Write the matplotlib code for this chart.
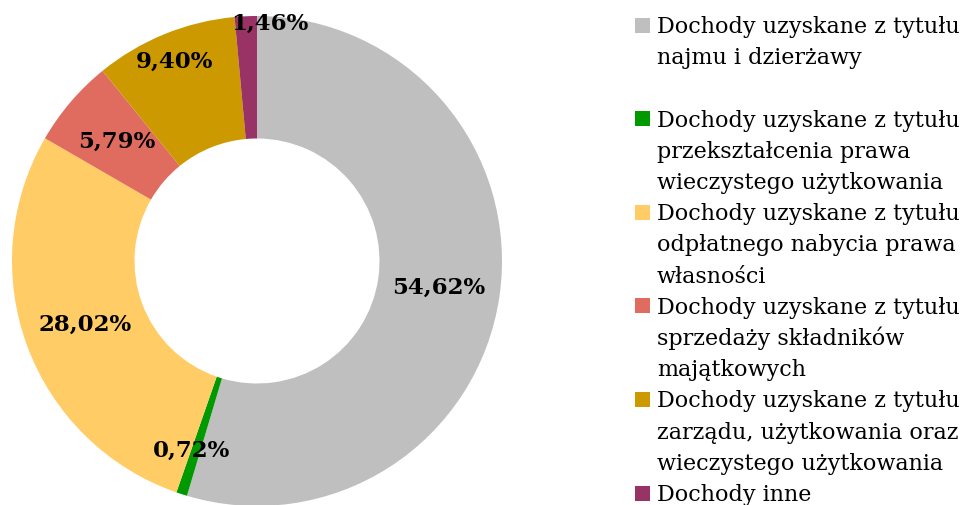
import numpy as np
from matplotlib import pyplot as plt
from matplotlib.patches import Rectangle

W, H = 964, 505

shares = [54.62, 0.72, 28.02, 5.79, 9.40, 1.46]
pct_labels = ['54,62%', '0,72%', '28,02%', '5,79%', '9,40%', '1,46%']
legend_labels = [
    ['Dochody uzyskane z tytułu', 'najmu i dzierżawy'],
    ['Dochody uzyskane z tytułu', 'przekształcenia prawa', 'wieczystego użytkowania'],
    ['Dochody uzyskane z tytułu', 'odpłatnego nabycia prawa', 'własności'],
    ['Dochody uzyskane z tytułu', 'sprzedaży składników', 'majątkowych'],
    ['Dochody uzyskane z tytułu', 'zarządu, użytkowania oraz', 'wieczystego użytkowania'],
    ['Dochody inne'],
]
colors = ['#BFBFBF', '#009900', '#FFCC66', '#E06C5F', '#CC9900', '#993366']

# label placement tweaks (radius as fraction of outer radius, angle shift in deg)
lab_r = [0.75, 0.82, 0.75, 0.75, 0.88, 0.97]
lab_da = [0, -1, 0, 0, 0.3, -5.7]

plt.rcParams['font.family'] = 'DejaVu Serif'

fig = plt.figure(figsize=(W / 100, H / 100), dpi=100)
ax = fig.add_axes([12 / W, -1 / H, 490 / W, 490 / H])
wedges, _ = ax.pie(shares, colors=colors, startangle=90, counterclock=False,
                   radius=1.0, wedgeprops=dict(width=0.5, linewidth=0))
ax.set_xlim(-1, 1)
ax.set_ylim(-1, 1)
ax.axis('off')

for w, txt, r, da in zip(wedges, pct_labels, lab_r, lab_da):
    ang = np.deg2rad((w.theta1 + w.theta2) / 2 + da)
    ax.text(r * np.cos(ang), r * np.sin(ang), txt, ha='center', va='center',
            fontsize=16.5, fontweight='bold', color='black', clip_on=False)

# legend, each entry gets a three-line slot
y0, line_h = 25, 31.2
for i, (lines, c) in enumerate(zip(legend_labels, colors)):
    yc = y0 + i * 3 * line_h
    fig.patches.append(Rectangle(((635) / W, 1 - (yc + 7.5) / H), 15 / W, 15 / H,
                                 transform=fig.transFigure, facecolor=c,
                                 edgecolor='none'))
    for k, line in enumerate(lines):
        fig.text(657 / W, 1 - (yc + 8 + k * line_h) / H, line, ha='left',
                 va='baseline', fontsize=16, color='black')

fig.savefig('out.png', dpi=100)
